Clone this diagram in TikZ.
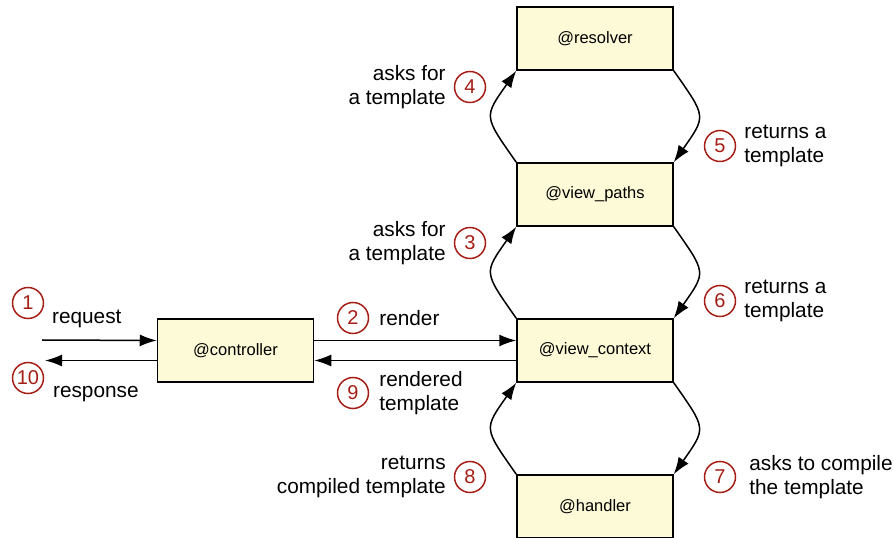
\documentclass[tikz,border=0pt]{standalone}
\usepackage{fontspec}
\setmainfont{Liberation Sans}
\usetikzlibrary{positioning}
\usetikzlibrary{arrows.meta}
\definecolor{boxfill}{HTML}{FDFBD7}
\definecolor{numred}{HTML}{A51E15}
\tikzset{every picture/.style={line width=1.5pt}}

\begin{document}
\begin{tikzpicture}[x=1pt,y=1pt,bs/.style={draw,fill=boxfill,minimum width=156pt,minimum height=63pt,font=\fontsize{16.5}{18}\selectfont},ns/.style={circle,draw=numred,text=numred,minimum size=31pt,inner sep=0pt,font=\fontsize{20}{22}\selectfont},ls/.style={font=\fontsize{20.8}{23.5}\selectfont},ar/.style={-{Latex[length=17pt,width=12pt]}}]
\useasboundingbox (0,0) rectangle (894,538);
\node (vc) [bs] at (595,187.5) {@view\_context};
\node (vp) [bs,above of=vc,node distance=156pt] {@view\_paths};
\node (rs) [bs,above of=vp,node distance=156pt] {@resolver};
\node (hd) [bs,below of=vc,node distance=156pt] {@handler};
\node (ct) [bs,left of=vc,node distance=359.5pt] {@controller};
\node (n1) [ns] at (28,235) {1};
\node (n10) [ns] at (28,160) {10};
\node (n2) [ns] at (353,220) {2};
\node (n9) [ns] at (353,145) {9};
\node (n3) [ns] at (470,295) {3};
\node (n4) [ns] at (470,451) {4};
\node (n5) [ns] at (720,392) {5};
\node (n6) [ns] at (720,237) {6};
\node (n7) [ns] at (720,61) {7};
\node (n8) [ns] at (470,61) {8};
\node (t1) [ls,anchor=west] at (48,219) {request};
\node (t10) [ls,anchor=west] at (49,144) {response};
\node (t2) [ls,right=6pt of n2] {render};
\node (t9) [ls,align=left,right=6pt of n9] {rendered\\template};
\node (t3) [ls,align=right,left=4pt of n3] {asks for\\a template};
\node (t4) [ls,align=right,left=4pt of n4] {asks for\\a template};
\node (t5) [ls,align=left,right=4pt of n5] {returns a\\template};
\node (t6) [ls,align=left,right=4pt of n6] {returns a\\template};
\node (t7) [ls,align=left,right=9pt of n7] {asks to compile\\the template};
\node (t8) [ls,align=right,left=4pt of n8] {returns\\compiled template};
\coordinate (rq) at (42,198);
\coordinate (rp) at (45,177.5);
\draw[ar] (rq) -- ([yshift=10pt]ct.west);
\draw[ar] ([yshift=-10pt]ct.west) -- (rp);
\draw[ar] ([yshift=10pt]ct.east) -- ([yshift=10pt]vc.west);
\draw[ar] ([yshift=-10pt]vc.west) -- ([yshift=-10pt]ct.east);
\draw[ar] (vp.north west) to[out=125,in=-125,looseness=1.6] (rs.south west);
\draw[ar] (rs.south east) to[out=-55,in=55,looseness=1.6] (vp.north east);
\draw[ar] (vc.north west) to[out=125,in=-125,looseness=1.6] (vp.south west);
\draw[ar] (vp.south east) to[out=-55,in=55,looseness=1.6] (vc.north east);
\draw[ar] (hd.north west) to[out=125,in=-125,looseness=1.6] (vc.south west);
\draw[ar] (vc.south east) to[out=-55,in=55,looseness=1.6] (hd.north east);
\end{tikzpicture}
\end{document}
